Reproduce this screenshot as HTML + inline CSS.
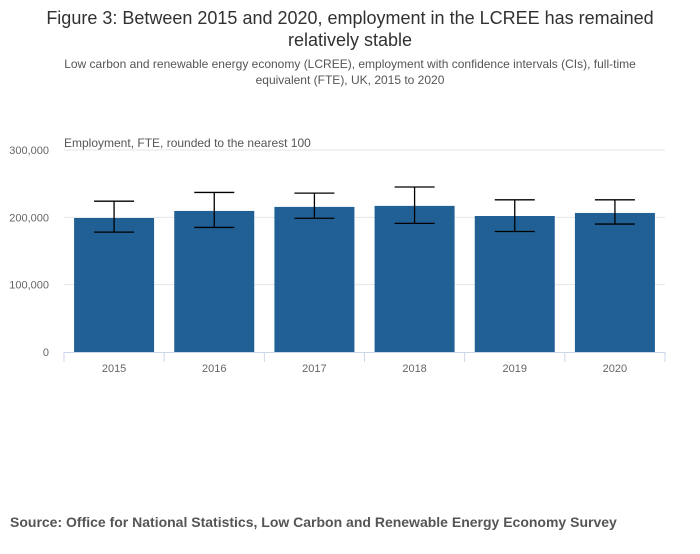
<!DOCTYPE html>
<html><head><meta charset="utf-8"><style>
body{margin:0;background:#fff;width:700px;height:549px;overflow:hidden;font-family:"Liberation Sans",sans-serif;}
</style></head><body>
<svg width="700" height="549" xmlns="http://www.w3.org/2000/svg">
<text x="350" y="24" text-anchor="middle" font-size="18" fill="#323132">Figure 3: Between 2015 and 2020, employment in the LCREE has remained</text>
<text x="350" y="46" text-anchor="middle" font-size="18" fill="#323132">relatively stable</text>
<text x="350" y="68" text-anchor="middle" font-size="12" fill="#555">Low carbon and renewable energy economy (LCREE), employment with confidence intervals (CIs), full-time</text>
<text x="350" y="84" text-anchor="middle" font-size="12" fill="#555">equivalent (FTE), UK, 2015 to 2020</text>
<text x="64" y="147" font-size="12" fill="#555">Employment, FTE, rounded to the nearest 100</text>
<g id="grid"></g><g id="bars"></g><g id="xaxis"></g>
<text x="10" y="527" font-size="14" font-weight="bold" fill="#555">Source: Office for National Statistics, Low Carbon and Renewable Energy Economy Survey</text>
</svg>
<script>
const categories=["2015","2016","2017","2018","2019","2020"];
const values=[199000,209500,215500,217000,202000,206500];
const lower=[178000,185000,198600,191000,179000,190000];
const upper=[224000,237000,236000,245000,226000,226000];
const yTicks=[0,100000,200000,300000];
const yTickLabels=["0","100,000","200,000","300,000"];
const NS="http://www.w3.org/2000/svg";
const L=64,R=665,T=150,B=352,max=300000;
const y=v=>B-(v/max)*(B-T);
const band=(R-L)/categories.length;
const x=i=>L+band*i;
function mk(t,a,p){const e=document.createElementNS(NS,t);for(const k in a)e.setAttribute(k,a[k]);p.appendChild(e);return e;}
const g=document.getElementById('grid'),b=document.getElementById('bars'),xa=document.getElementById('xaxis');
yTicks.forEach((v,i)=>{
 if(v>0){const l=mk('line',{x1:L,x2:R,y1:y(v),y2:y(v),stroke:'#e6e6e6'},g);
 
 }
 const t=mk('text',{x:49,y:y(v)+4,'text-anchor':'end','font-size':11,fill:'#666'},g);t.textContent=yTickLabels[i];
 
 
});
categories.forEach((c,i)=>{
 const cx=x(i)+band/2;
 const r=mk('rect',{x:cx-40,y:y(values[i]),width:80,height:B-y(values[i]),fill:'#206095'},b);
 
 
 const e=mk('path',{d:`M${cx-20},${y(upper[i])}H${cx+20}M${cx},${y(upper[i])}V${y(lower[i])}M${cx-20},${y(lower[i])}H${cx+20}`,stroke:'#000','stroke-width':1.3,fill:'none'},b);
 
 
 const t=mk('text',{x:cx,y:372,'text-anchor':'middle','font-size':11,fill:'#666'},xa);t.textContent=c;
 
 
});
for(let i=0;i<=categories.length;i++){mk('line',{x1:x(i),x2:x(i),y1:B,y2:B+10,stroke:'#ccd6eb'},xa);}
const ax=mk('line',{x1:L,x2:R,y1:B+0.5,y2:B+0.5,stroke:'#ccd6eb'},xa);


</script>
</body></html>
